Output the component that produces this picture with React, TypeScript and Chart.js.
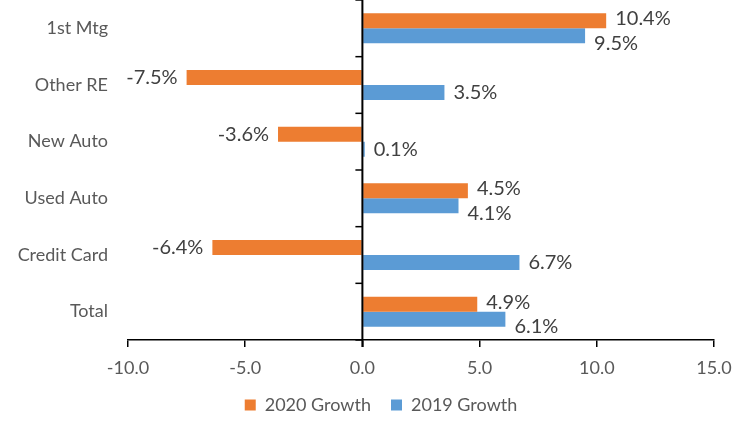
import React, { useEffect, useRef } from "react";
import { Chart, registerables } from "chart.js";

Chart.register(...registerables);

const categories = ["1st Mtg", "Other RE", "New Auto", "Used Auto", "Credit Card", "Total"];
const growth2020 = [10.4, -7.5, -3.6, 4.5, -6.4, 4.9];
const growth2019 = [9.5, 3.5, 0.1, 4.1, 6.7, 6.1];
const seriesNames = ["2020 Growth", "2019 Growth"];
const xTicks = [-10, -5, 0, 5, 10, 15];

const ORANGE = "#ED7D31";
const BLUE = "#5B9BD5";
const FONT = "Lato, 'Open Sans', sans-serif";

const valueLabels = {
  id: "valueLabels",
  afterDatasetsDraw(chart: any) {
    const ctx = chart.ctx;
    ctx.save();
    ctx.font = `20px ${FONT}`;
    ctx.fillStyle = "#404040";
    ctx.textBaseline = "middle";
    chart.data.datasets.forEach((ds: any, di: number) => {
      const meta = chart.getDatasetMeta(di);
      meta.data.forEach((el: any, i: number) => {
        const v = ds.data[i];
        const bothPos = growth2020[i] >= 0 && growth2019[i] >= 0;
        let dy = 0;
        if (bothPos) dy = di === 0 ? -2 : 7.5;
        if (v >= 0) {
          ctx.textAlign = "left";
          ctx.fillText(v.toFixed(1) + "%", el.x + 9, el.y + dy);
        } else {
          ctx.textAlign = "right";
          ctx.fillText(v.toFixed(1) + "%", el.x - 9, el.y + dy);
        }
      });
    });
    ctx.restore();
  },
};

const zeroTicks = {
  id: "zeroTicks",
  afterDraw(chart: any) {
    const ctx = chart.ctx;
    const xs = chart.scales.x;
    const ys = chart.scales.y;
    const x0 = xs.getPixelForValue(0);
    ctx.save();
    ctx.strokeStyle = "#000";
    ctx.lineWidth = 2;
    ctx.beginPath();
    ctx.moveTo(x0, chart.chartArea.top);
    ctx.lineTo(x0, chart.chartArea.bottom + 7);
    ctx.stroke();
    ctx.lineWidth = 1.5;
    const n = categories.length;
    for (let k = 0; k <= n; k++) {
      const y = ys.getPixelForValue(k - 0.5);
      ctx.beginPath();
      ctx.moveTo(x0 - 7, y);
      ctx.lineTo(x0, y);
      ctx.stroke();
    }
    ctx.restore();
  },
};

export default function App() {
  const ref = useRef<HTMLCanvasElement>(null);
  useEffect(() => {
    document.body.style.margin = "0";
    const chart = new Chart(ref.current!, {
      type: "bar",
      data: {
        labels: categories,
        datasets: [
          { label: seriesNames[0], data: growth2020, backgroundColor: ORANGE },
          { label: seriesNames[1], data: growth2019, backgroundColor: BLUE },
        ],
      },
      options: {
        indexAxis: "y",
        animation: false,
        responsive: false,
        devicePixelRatio: 1,
        categoryPercentage: 0.53,
        barPercentage: 1.0,
        layout: { padding: { top: 0, right: 0, bottom: 1, left: 12 } },
        scales: {
          x: {
            min: -10,
            max: 15,
            afterBuildTicks(scale: any) {
              scale.ticks = xTicks.map((v) => ({ value: v }));
            },
            afterFit(scale: any) {
              scale.height = 36;
              scale.paddingRight = 36;
            },
            ticks: {
              callback: (v: any) => Number(v).toFixed(1),
              font: { family: FONT, size: 18 },
              color: "#595959",
              padding: 10,
            },
            grid: { color: "transparent", tickColor: "#000", tickLength: 7, lineWidth: 1.5 },
            border: { display: true, color: "#000", width: 1.5 },
          },
          y: {
            afterFit(scale: any) {
              scale.width = 116;
              scale.paddingTop = 0;
              scale.paddingBottom = 0;
            },
            ticks: { font: { family: FONT, size: 18 }, color: "#595959", padding: 20 },
            grid: { display: false, drawTicks: false },
            border: { display: false },
          },
        },
        plugins: {
          legend: {
            position: "bottom",
            labels: { font: { family: FONT, size: 18 }, color: "#595959", boxWidth: 11, boxHeight: 11, padding: 20 },
          },
          tooltip: { enabled: false },
        },
      },
      plugins: [valueLabels, zeroTicks],
    });
    return () => chart.destroy();
  }, []);
  return (
    <div style={{ width: 750, height: 425 }}>
      <canvas ref={ref} width={750} height={425} />
    </div>
  );
}
